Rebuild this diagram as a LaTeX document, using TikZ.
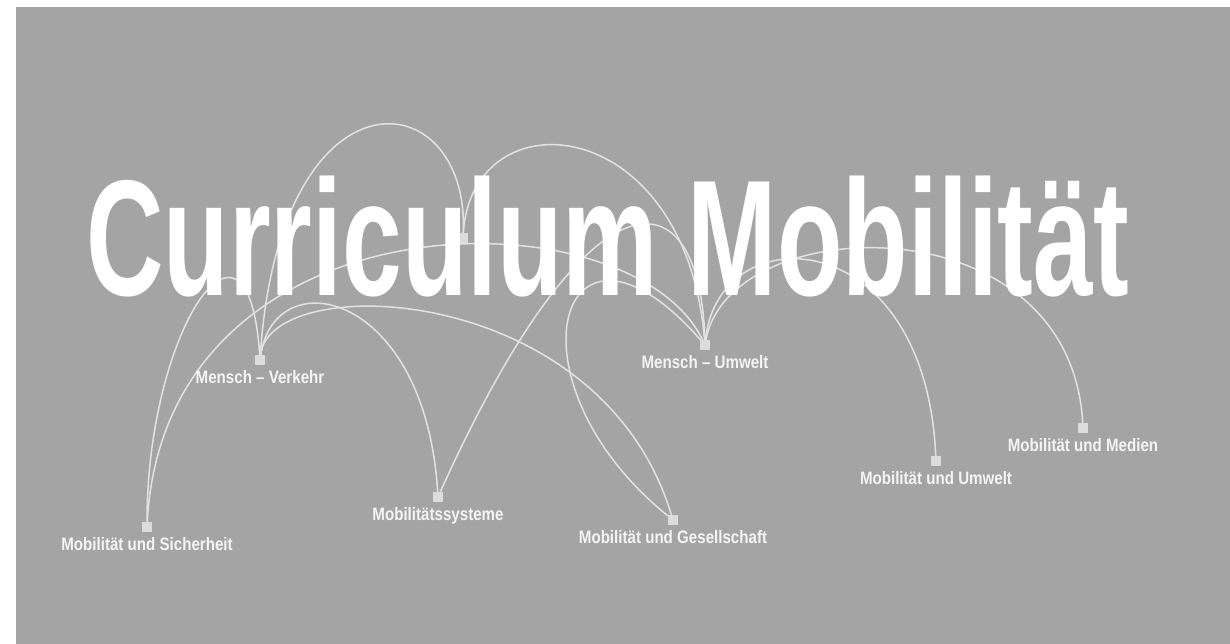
\documentclass[tikz,border=0pt]{standalone}
\usepackage{fontspec}
\usepackage{tikz}
\usetikzlibrary{positioning}

\newfontfamily\titlefont[FakeStretch=0.65]{Liberation Sans Bold}
\newfontfamily\lblfont[FakeStretch=0.84]{Liberation Sans Bold}
\definecolor{bggray}{HTML}{A4A4A4}
\definecolor{linkgray}{HTML}{E2E2E2}
\definecolor{boxgray}{HTML}{DCDCDC}
\definecolor{txtwhite}{HTML}{F4F4F4}

\begin{document}
\begin{tikzpicture}[x=1pt, y=-1pt,
        topic/.style={fill=boxgray, minimum size=10pt, inner sep=0pt},
        lbl/.style={text=txtwhite, inner sep=0pt, font=\lblfont\fontsize{18}{18}\selectfont},
        link/.style={draw=linkgray, line width=1.5pt, line cap=round}]
                \useasboundingbox (0,0) rectangle (1230,644);
                \fill[white] (0,0) rectangle (1230,644);
                \fill[bggray] (16,7) rectangle (1230,644);

                % topics
                \node[topic] (S) at (147,527) {};
                \node[topic] (V) at (260,360) {};
                \node[topic] (Y) at (438,497) {};
                \node[topic] (G) at (673,520) {};
                \node[topic] (U) at (705,345) {};
                \node[topic] (MU) at (936,461) {};
                \node[topic] (MM) at (1083,428) {};
                \node[topic] (H) at (463,238) {};

                % links
                \draw[link] (S) .. controls (147,330) and (248,180) .. (V);
                \draw[link] (S) .. controls (165,190) and (630,190) .. (U);
                \draw[link] (V) .. controls (280,60) and (470,80) .. (H);
                \draw[link] (H) .. controls (472,95) and (685,110) .. (U);
                \draw[link] (V) .. controls (275,260) and (425,290) .. (Y);
                \draw[link] (V) .. controls (270,270) and (600,280) .. (G);
                \draw[link] (Y) .. controls (590,160) and (700,170) .. (U);
                \draw[link] (G) .. controls (500,380) and (560,180) .. (U);
                \draw[link] (U) .. controls (718,215) and (925,220) .. (MU);
                \draw[link] (U) .. controls (730,210) and (1070,200) .. (MM);

                \node[anchor=base west, inner sep=0pt, text=white,
                    font=\titlefont\fontsize{165}{165}\selectfont] (title) at (86,295) {Curriculum Mobilität};

                \node[lbl, below=5pt of S] (Sl) {Mobilität und Sicherheit};
                \node[lbl, below=5pt of V] (Vl) {Mensch – Verkehr};
                \node[lbl, below=5pt of Y] (Yl) {Mobilitätssysteme};
                \node[lbl, below=5pt of G] (Gl) {Mobilität und Gesellschaft};
                \node[lbl, below=5pt of U] (Ul) {Mensch – Umwelt};
                \node[lbl, below=5pt of MU] (MUl) {Mobilität und Umwelt};
                \node[lbl, below=5pt of MM] (MMl) {Mobilität und Medien};
            \end{tikzpicture}
\end{document}
